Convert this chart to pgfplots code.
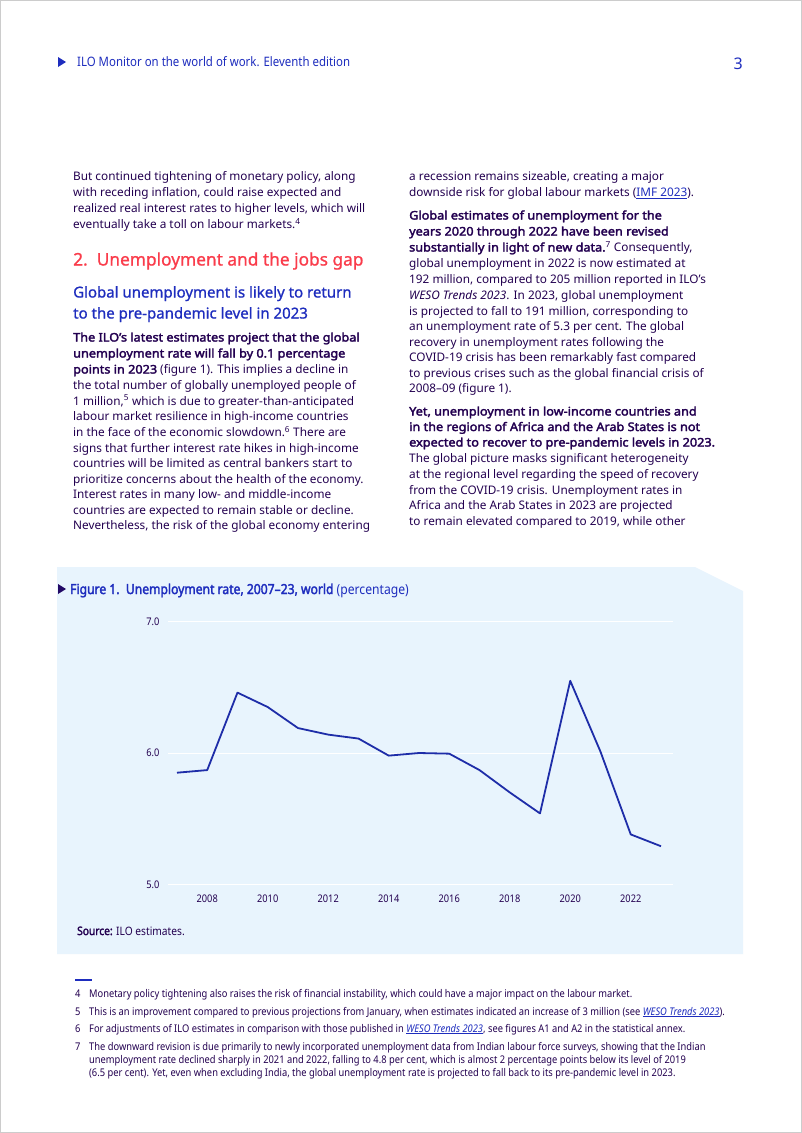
\documentclass[border=0pt]{standalone}
\usepackage{fontspec}
\setmainfont{Noto Sans}[BoldFont={Noto Sans}, BoldFeatures={FakeBold=2.6,FakeStretch=1.075}, BoldItalicFont={Noto Sans Italic}, BoldItalicFeatures={FakeBold=2.6}]
\newfontfamily\cond{Noto Sans}[FakeStretch=0.88, BoldFont={Noto Sans}, BoldFeatures={FakeBold=2.4}]
\newfontfamily\semib{Noto Sans}[FakeBold=1.0]
\usepackage{pgfplots}
\pgfplotsset{compat=1.18}
\definecolor{textc}{HTML}{230050}
\definecolor{ilored}{HTML}{FA3C4B}
\definecolor{iloblue}{HTML}{1E2DBE}
\definecolor{linec}{HTML}{1E2DA8}
\definecolor{bgblue}{HTML}{E8F4FD}
\newcommand\tl[3]{\node[anchor=base west,inner sep=0pt,text=textc] at (#1pt,-#2pt) {#3};}
\newcommand\lnk[1]{\textcolor{iloblue}{\underline{#1}}}
\begin{document}
\begin{tikzpicture}
\path[use as bounding box] (0,0) rectangle (802pt,-1133pt);
\fill[white] (0,0) rectangle (802pt,-1133pt);
\draw[gray!40,line width=0.8pt] (0.4pt,-0.4pt) rectangle (801.6pt,-1132.6pt);
% header
\fill[iloblue] (58pt,-57pt) -- (58pt,-67pt) -- (66pt,-62pt) -- cycle;
\node[anchor=base west,inner sep=0pt,text=iloblue,font=\cond\fontsize{13}{15}\selectfont] at (77pt,-66pt) {ILO Monitor on the world of work. Eleventh edition};
\node[anchor=base east,inner sep=0pt,text=iloblue,font=\fontsize{16}{18}\selectfont] at (743pt,-69pt) {3};
% left column
\begin{scope}[font=\fontsize{11.8}{14}\selectfont]
\tl{73}{180.5}{But continued tightening of monetary policy, along}
\tl{73}{196.5}{with receding inflation, could raise expected and}
\tl{73}{212.5}{realized real interest rates to higher levels, which will}
\tl{73}{228.5}{eventually take a toll on labour markets.\textsuperscript{4}}
\node[anchor=base west,inner sep=0pt,text=ilored,font=\semib\fontsize{17.3}{20}\selectfont] at (73pt,-265.5pt) {2.\ \ Unemployment and the jobs gap};
\node[anchor=base west,inner sep=0pt,text=iloblue,font=\semib\fontsize{15}{18}\selectfont] at (73pt,-297.5pt) {Global unemployment is likely to return};
\node[anchor=base west,inner sep=0pt,text=iloblue,font=\semib\fontsize{15}{18}\selectfont] at (73pt,-318.5pt) {to the pre-pandemic level in 2023};
\tl{73}{341.5}{\textbf{The ILO’s latest estimates project that the global}}
\tl{73}{357.5}{\textbf{unemployment rate will fall by 0.1 percentage}}
\tl{73}{373.5}{\textbf{points in 2023} (figure 1). This implies a decline in}
\tl{73}{389.5}{the total number of globally unemployed people of}
\tl{73}{405}{1 million,\textsuperscript{5} which is due to greater-than-anticipated}
\tl{73}{420.5}{labour market resilience in high-income countries}
\tl{73}{436.5}{in the face of the economic slowdown.\textsuperscript{6} There are}
\tl{73}{452}{signs that further interest rate hikes in high-income}
\tl{73}{467.5}{countries will be limited as central bankers start to}
\tl{73}{483}{prioritize concerns about the health of the economy.}
\tl{73}{498.5}{Interest rates in many low- and middle-income}
\tl{73}{514}{countries are expected to remain stable or decline.}
\tl{73}{529.5}{Nevertheless, the risk of the global economy entering}
% right column
\tl{409}{180.5}{a recession remains sizeable, creating a major}
\tl{409}{196.5}{downside risk for global labour markets (\lnk{IMF 2023}).}
\tl{409}{219.5}{\textbf{Global estimates of unemployment for the}}
\tl{409}{235.5}{\textbf{years 2020 through 2022 have been revised}}
\tl{409}{251.5}{\textbf{substantially in light of new data.}\textsuperscript{7} Consequently,}
\tl{409}{267.5}{global unemployment in 2022 is now estimated at}
\tl{409}{283.5}{192 million, compared to 205 million reported in ILO's}
\tl{409}{299.5}{\textit{WESO Trends 2023}. In 2023, global unemployment}
\tl{409}{315}{is projected to fall to 191 million, corresponding to}
\tl{409}{330.5}{an unemployment rate of 5.3 per cent. The global}
\tl{409}{346}{recovery in unemployment rates following the}
\tl{409}{361.5}{COVID-19 crisis has been remarkably fast compared}
\tl{409}{377}{to previous crises such as the global financial crisis of}
\tl{409}{392.5}{2008–09 (figure 1).}
\tl{409}{415.5}{\textbf{Yet, unemployment in low-income countries and}}
\tl{409}{431}{\textbf{in the regions of Africa and the Arab States is not}}
\tl{409}{446.5}{\textbf{expected to recover to pre-pandemic levels in 2023.}}
\tl{409}{462}{The global picture masks significant heterogeneity}
\tl{409}{478}{at the regional level regarding the speed of recovery}
\tl{409}{494}{from the COVID-19 crisis. Unemployment rates in}
\tl{409}{509.5}{Africa and the Arab States in 2023 are projected}
\tl{409}{525}{to remain elevated compared to 2019, while other}
\end{scope}
% figure box
\fill[bgblue] (57pt,-567pt) -- (695pt,-567pt) -- (743pt,-591pt) -- (743pt,-954pt) -- (57pt,-954pt) -- cycle;
\fill[textc!80!iloblue] (58pt,-584pt) -- (58pt,-594pt) -- (66pt,-589pt) -- cycle;
\node[anchor=base west,inner sep=0pt,font=\cond\fontsize{13.8}{16}\selectfont] at (70pt,-594pt) {\textcolor{iloblue}{\textbf{Figure 1.\ \ Unemployment rate, 2007–23, world}} \textcolor{iloblue}{(percentage)}};
\node[anchor=base west,inner sep=0pt,text=textc,font=\cond\fontsize{11.6}{13}\selectfont] at (77pt,-935pt) {\textbf{Source:} ILO estimates.};
\begin{axis}[
  at={(167.9pt,-884.3pt)}, anchor=south west,
  scale only axis, width=505.2pt, height=262.6pt,
  xmin=2006.7, xmax=2023.4, ymin=5, ymax=7,
  axis line style={draw=none},
  major tick length=0pt,
  xtick={2008,2010,...,2022}, ytick={5,6,7},
  ymajorgrids, grid style={white, line width=0.9pt},
  /pgf/number format/assume math mode=true,
  tick label style={font=\cond\fontsize{10.5}{12}\selectfont, text=textc},
  xticklabel style={yshift=-7pt, /pgf/number format/1000 sep={}},
  yticklabel style={xshift=-5pt, /pgf/number format/.cd, fixed, fixed zerofill, precision=1},
  clip=false,
]
\addplot[linec, line width=1.8pt, line join=round] coordinates {
(2007,5.85) (2008,5.87) (2009,6.46) (2010,6.35) (2011,6.19) (2012,6.14)
(2013,6.11) (2014,5.98) (2015,6.00) (2016,5.995) (2017,5.87) (2018,5.70)
(2019,5.54) (2020,6.55) (2021,6.01) (2022,5.38) (2023,5.29)};
\end{axis}
% footnotes
\draw[iloblue,line width=1.2pt] (75pt,-980pt) -- (92pt,-980pt);
\begin{scope}[font=\cond\fontsize{10.6}{12}\selectfont]
\tl{75}{997}{4}
\tl{89}{997}{Monetary policy tightening also raises the risk of financial instability, which could have a major impact on the labour market.}
\tl{75}{1015}{5}
\tl{89}{1015}{This is an improvement compared to previous projections from January, when estimates indicated an increase of 3 million (see \lnk{\textit{WESO Trends 2023}}).}
\tl{75}{1032}{6}
\tl{89}{1032}{For adjustments of ILO estimates in comparison with those published in \lnk{\textit{WESO Trends 2023}}, see figures A1 and A2 in the statistical annex.}
\tl{75}{1050}{7}
\tl{89}{1050}{The downward revision is due primarily to newly incorporated unemployment data from Indian labour force surveys, showing that the Indian}
\tl{89}{1063}{unemployment rate declined sharply in 2021 and 2022, falling to 4.8 per cent, which is almost 2 percentage points below its level of 2019}
\tl{89}{1076}{(6.5 per cent). Yet, even when excluding India, the global unemployment rate is projected to fall back to its pre-pandemic level in 2023.}
\end{scope}
\end{tikzpicture}
\end{document}
